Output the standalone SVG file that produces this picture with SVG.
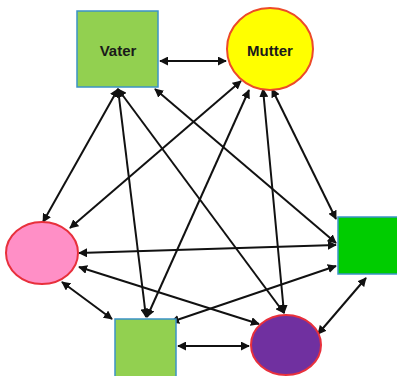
<svg xmlns="http://www.w3.org/2000/svg" width="397" height="376" viewBox="0 0 397 376">
<defs>
<style>
.sq{stroke:#3b93c6;stroke-width:1.5}
.ci{stroke:#e8303c;stroke-width:2}
.c{stroke:#111;stroke-width:2;fill:none;marker-start:url(#ah);marker-end:url(#ah)}
.t{font-family:"Liberation Sans",Arial,sans-serif;font-weight:bold;font-size:15px;fill:#1a1a1a;text-anchor:middle}
</style>
<marker id="ah" viewBox="0 0 10 10" refX="9" refY="5" markerWidth="4.5" markerHeight="4.5" orient="auto-start-reverse" markerUnits="strokeWidth">
<path d="M0,0 L10,5 L0,10 z" fill="#111"/>
</marker>
</defs>
<rect width="397" height="376" fill="#fff"/>
<g id="connectors">
<line class="c" x1="160" y1="61" x2="226" y2="61"/>
<line class="c" x1="118" y1="89" x2="43" y2="222"/>
<line class="c" x1="118" y1="89" x2="146" y2="317"/>
<line class="c" x1="118" y1="89" x2="284" y2="313"/>
<line class="c" x1="155" y1="89" x2="336" y2="243"/>
<line class="c" x1="241" y1="81" x2="70" y2="228"/>
<line class="c" x1="249" y1="90" x2="147" y2="317"/>
<line class="c" x1="263" y1="89" x2="284" y2="313"/>
<line class="c" x1="272" y1="89" x2="336" y2="219"/>
<line class="c" x1="79" y1="253" x2="336" y2="245"/>
<line class="c" x1="79" y1="267" x2="259" y2="324"/>
<line class="c" x1="62" y1="282" x2="112" y2="319"/>
<line class="c" x1="336" y1="266" x2="171" y2="322"/>
<line class="c" x1="366" y1="278" x2="318" y2="334"/>
<line class="c" x1="178" y1="346" x2="249" y2="346"/>
</g>
<g id="vater">
<rect class="sq" x="77" y="11" width="81" height="76" fill="#92d050"/>
<text class="t" x="118" y="56">Vater</text>
</g>
<g id="mutter">
<ellipse cx="270" cy="49" rx="43" ry="41" fill="#ffff00" stroke="#ec4a2a" stroke-width="2"/>
<text class="t" x="270" y="56">Mutter</text>
</g>
<g id="pink">
<ellipse class="ci" cx="42" cy="253" rx="36" ry="31" fill="#ff8fc6"/>
</g>
<g id="green">
<rect class="sq" x="338" y="217" width="62" height="57" fill="#00cc00"/>
</g>
<g id="bottom-square">
<rect class="sq" x="115" y="319" width="61" height="60" fill="#92d050"/>
</g>
<g id="purple">
<ellipse class="ci" cx="286" cy="345" rx="35" ry="30" fill="#7030a0"/>
</g>
</svg>
